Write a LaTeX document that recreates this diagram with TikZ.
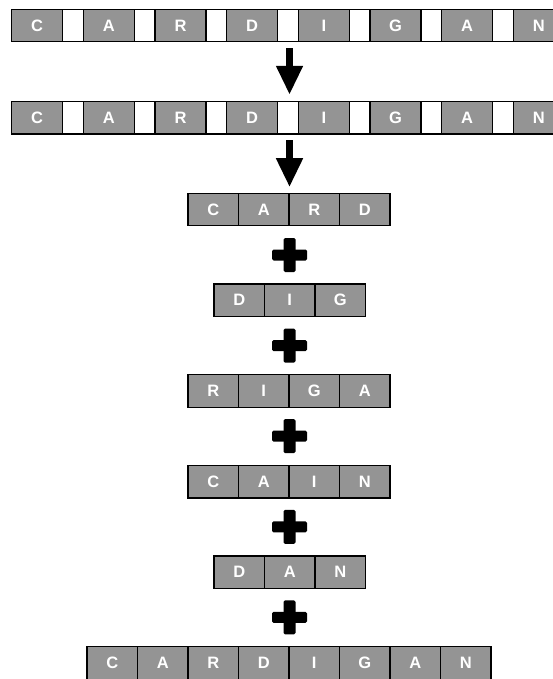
\documentclass[tikz,border=0pt]{standalone}
\usepackage{fontspec}
\setmainfont{Liberation Sans}
\usetikzlibrary{arrows.meta}
\definecolor{cellgray}{RGB}{148,148,148}
\newcommand\wordrow[4]{%
  \foreach \L [count=\i] in {#4} {%
    \node[lcell] (#1\i) at ({#3+(\i-0.5)*50.5}, #2) {\L};%
  }%
}
\begin{document}
\begin{tikzpicture}[x=1bp,y=-1bp,
  cell/.style={draw=black, line width=1.3bp, fill=cellgray, inner sep=0pt, outer sep=0pt,
    minimum height=32.5bp, text=white, font=\bfseries\fontsize{16.5bp}{17bp}\selectfont},
  gcell/.style={cell, minimum width=51bp},
  wcell/.style={cell, fill=white, minimum width=20.66bp},
  lcell/.style={cell, minimum width=50.5bp},
  bigarrow/.style={line width=7.5bp, -{Triangle[width=25bp,length=29bp]}},
  plussign/.pic={
    \fill[rounded corners=1.5bp] (-17.5,-5.5) rectangle (17.5,5.5);
    \fill[rounded corners=1.5bp] (-6,-17) rectangle (6,17);
  }]
\useasboundingbox (0,0) rectangle (553,679);
% top two strips with gaps
\foreach \yy/\nm in {25.5/t, 117.8/s} {
  \foreach \L [count=\i, evaluate=\i as \xg using 11.7+(\i-1)*71.66+25.5,
               evaluate=\i as \xw using 11.7+(\i-1)*71.66+51+10.33] in {C,A,R,D,I,G,A,N} {
    \node[gcell] (\nm\i) at (\xg,\yy) {\L};
    \ifnum\i<8 \node[wcell] (\nm w\i) at (\xw,\yy) {}; \fi
  }
}
% word rows
\wordrow{c}{209.5}{188}{C,A,R,D}
\wordrow{d}{300.2}{214}{D,I,G}
\wordrow{r}{390.9}{188}{R,I,G,A}
\wordrow{k}{481.6}{188}{C,A,I,N}
\wordrow{n}{572.3}{214}{D,A,N}
\wordrow{f}{663}{87}{C,A,R,D,I,G,A,N}
% arrows
\draw[bigarrow, shorten <=6.3bp, shorten >=6.7bp] ([xshift=1.5bp]tw4.south) -- ([xshift=1.5bp]sw4.north);
\draw[bigarrow, shorten <=6bp, shorten >=6bp] ([xshift=1.5bp]sw4.south) -- ([xshift=1.5bp]sw4.south |- c1.north);
% plus signs
\foreach \py in {255, 345.6, 436.2, 526.8, 617.4} {
  \pic at (289.5,\py) {plussign};
}
\end{tikzpicture}
\end{document}
